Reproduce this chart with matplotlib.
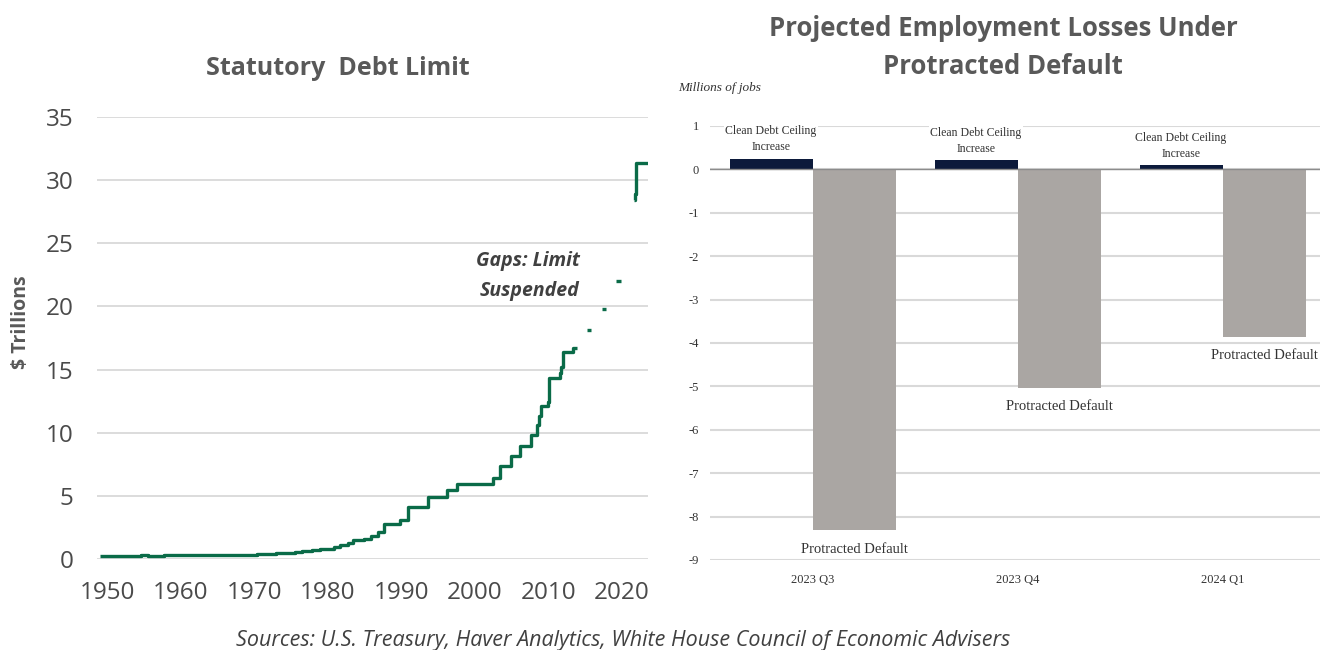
import numpy as np
import matplotlib
matplotlib.use("Agg")
import matplotlib.pyplot as plt

plt.rcParams["axes.unicode_minus"] = False

# statutory debt limit, $ trillions (NaN = limit suspended)
limit_years = [1949.0, 1954.6, 1955.5, 1957.7, 1962.3, 1965.5, 1967.5, 1970.4,
               1972.9, 1974.5, 1975.5, 1976.5, 1977.8, 1978.9, 1979.9, 1980.9,
               1981.7, 1982.7, 1983.5, 1984.9, 1985.9, 1986.8, 1987.6, 1989.9,
               1990.9, 1993.6, 1996.2, 1997.6, 2002.5, 2003.4, 2004.9, 2006.2,
               2007.7, 2008.5, 2008.8, 2009.1, 2009.95, 2010.1, 2011.6, 2011.75,
               2012.05, 2013.4, 2013.9, 2015.3, 2015.9, 2017.3, 2017.9, 2019.3,
               2019.9, 2021.75, 2021.9, 2022.0, 2023.6]
limit_values = [0.275, 0.281, 0.275, 0.290, 0.305, 0.324, 0.340, 0.400,
                0.450, 0.495, 0.577, 0.636, 0.700, 0.798, 0.830, 0.935,
                1.079, 1.290, 1.490, 1.573, 1.824, 2.111, 2.800, 3.123,
                4.145, 4.900, 5.500, 5.950, 6.400, 7.384, 8.184, 8.965,
                9.815, 10.615, 11.315, 12.104, 12.394, 14.294, 14.694, 15.194,
                16.394, 16.699, np.nan, 18.113, np.nan, 19.809, np.nan, 21.988,
                np.nan, 28.401, 28.881, 31.381, 31.381]

# projected employment effects, millions of jobs
quarters = ["2023 Q3", "2023 Q4", "2024 Q1"]
clean_increase = [0.25, 0.21, 0.09]
protracted_default = [-8.31, -5.03, -3.86]

title_color = "#595959"
tick_color = "#4a4a4a"
green = "#0a6b48"
grid_color = "#d9d9d9"

fig = plt.figure(figsize=(13.2, 6.5), dpi=100)

# ---- left: statutory debt limit ----
ax1 = fig.add_axes([0.0735, 0.14, 0.4174, 0.68])
ax1.plot(limit_years, limit_values, drawstyle="steps-post", color=green,
         lw=2.4, solid_capstyle="butt")
ax1.set_xlim(1948.6, 2023.6)
ax1.set_ylim(0, 35)
ax1.set_yticks(np.arange(0, 36, 5))
ax1.set_xticks(np.arange(1950, 2021, 10))
ax1.grid(axis="y", color=grid_color, lw=1.3)
ax1.set_axisbelow(True)
for s in ax1.spines.values():
    s.set_visible(False)
ax1.tick_params(length=0, labelsize=17.5, labelcolor=tick_color)
ax1.tick_params(axis="x", pad=16)
ax1.tick_params(axis="y", pad=17)
for lab in ax1.get_xticklabels() + ax1.get_yticklabels():
    lab.set_family("Open Sans")
ax1.set_ylabel("$ Trillions", fontsize=14, color=title_color, family="Open Sans",
               fontweight="bold")
ax1.yaxis.set_label_coords(-0.119, 0.536)
fig.text(0.256, 0.895, "Statutory  Debt Limit", ha="center", va="center",
         fontsize=18, color=title_color, family="Open Sans", fontweight="bold")
ax1.text(2014.3, 22.4, "Gaps: Limit\nSuspended", ha="right", va="center",
         fontsize=14, style="italic", fontweight="bold", color="#404040",
         family="Open Sans", linespacing=1.7)

# ---- right: employment losses ----
ax2 = fig.add_axes([0.5379, 0.1385, 0.466, 0.6677])
x = np.arange(len(quarters))
w = 0.405
b1 = ax2.bar(x - w / 2, clean_increase, w, color="#0c1a3b", zorder=3)
b2 = ax2.bar(x + w / 2, protracted_default, w, color="#aaa6a3", zorder=3)
ax2.set_xlim(-0.5, 2.5)
ax2.set_ylim(-9, 1)
ax2.set_yticks(np.arange(-9, 2, 1))
ax2.grid(axis="y", color=grid_color, lw=1.5, zorder=0)
ax2.axhline(0, color="#8c8c8c", lw=1.0, zorder=4)
for s in ax2.spines.values():
    s.set_visible(False)
ax2.set_xticks(x)
ax2.set_xticklabels(quarters)
ax2.tick_params(length=0, labelsize=9, labelcolor="#333333")
ax2.tick_params(axis="x", pad=10)
ax2.tick_params(axis="y", pad=8)
for lab in ax2.get_xticklabels() + ax2.get_yticklabels():
    lab.set_family("Liberation Serif")

for rect in b1:
    ax2.annotate("Clean Debt Ceiling\nIncrease",
                 (rect.get_x() + rect.get_width() / 2, rect.get_height()),
                 xytext=(0, 4), textcoords="offset points", ha="center", va="bottom",
                 fontsize=8.5, family="Liberation Serif", color="#333333",
                 linespacing=1.45, zorder=5,
                 bbox=dict(boxstyle="square,pad=0.15", fc="white", ec="none"))
for rect in b2:
    ax2.annotate("Protracted Default",
                 (rect.get_x() + rect.get_width() / 2, rect.get_height()),
                 xytext=(0, -9), textcoords="offset points", ha="center", va="top",
                 fontsize=10.5, family="Liberation Serif", color="#333333", zorder=5,
                 bbox=dict(boxstyle="square,pad=0.15", fc="white", ec="none"))

fig.text(0.514, 0.865, "Millions of jobs", fontsize=9.5, style="italic",
         family="Liberation Serif", color="#333333", va="center")
fig.text(0.76, 0.927, "Projected Employment Losses Under\nProtracted Default",
         ha="center", va="center", fontsize=18.5, fontweight="bold",
         color=title_color, family="Open Sans", linespacing=1.5)

fig.text(0.472, 0.014, "Sources: U.S. Treasury, Haver Analytics, White House Council of Economic Advisers",
         ha="center", va="center", fontsize=15.5, style="italic", color="#404040",
         family="Open Sans")

fig.savefig("out.png", dpi=100)
